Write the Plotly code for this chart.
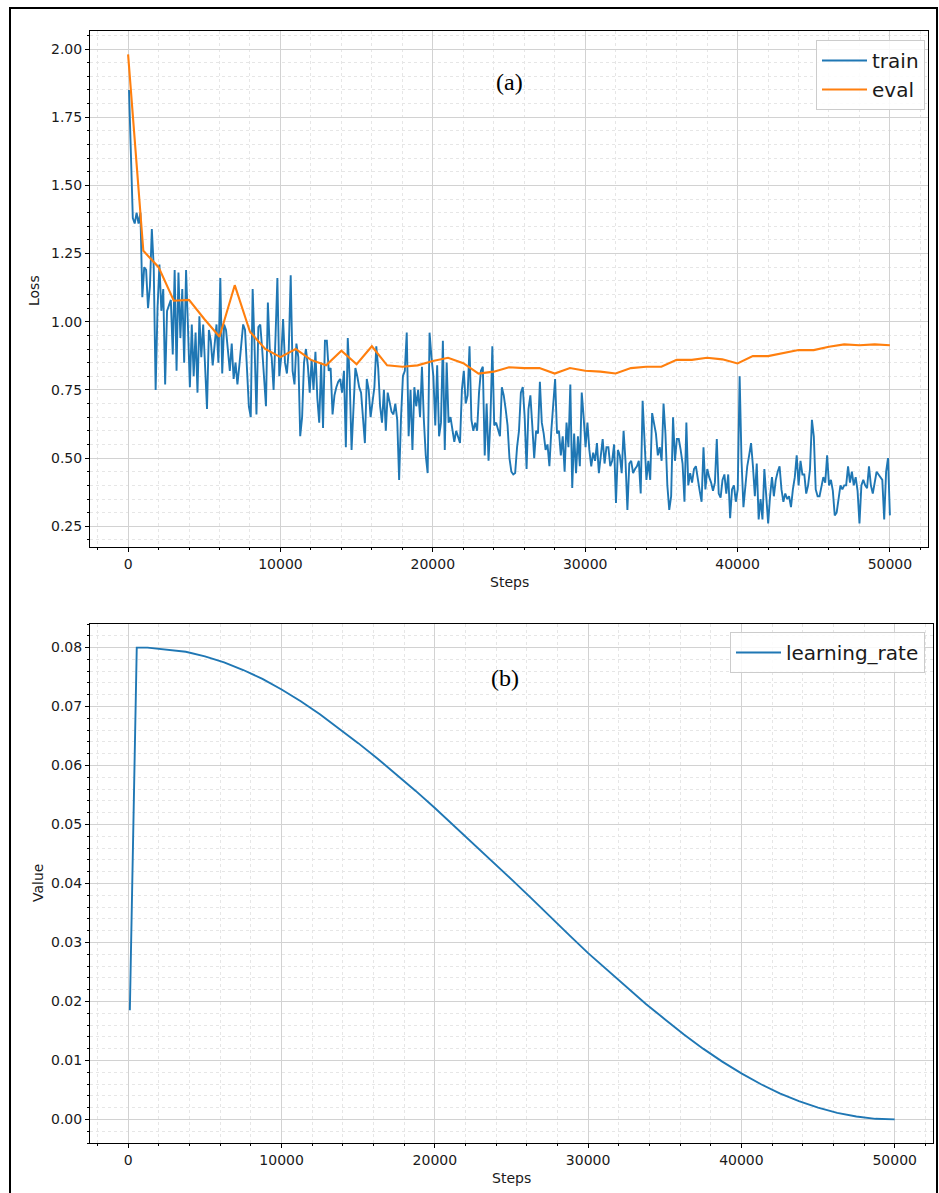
import numpy as np
import plotly.graph_objects as go

# ---------------- data ----------------
train_loss = [
    1.85, 1.60, 1.38, 1.36, 1.40, 1.36, 1.40, 1.09,
    1.20, 1.19, 1.05, 1.13, 1.34, 1.20, 0.75, 1.05,
    1.21, 1.04, 1.12, 0.77, 1.04, 1.06, 1.08, 0.88,
    1.19, 0.82, 1.18, 0.94, 1.12, 0.85, 1.19, 0.98,
    0.76, 0.99, 0.80, 0.96, 0.74, 1.02, 0.87, 0.99,
    0.82, 0.68, 0.97, 0.93, 0.84, 0.92, 0.99, 0.85,
    1.16, 0.81, 0.99, 0.97, 0.90, 0.82, 0.92, 0.79,
    0.85, 0.77, 0.84, 0.92, 0.99, 0.97, 0.82, 0.69,
    0.65, 1.12, 0.91, 0.66, 0.98, 0.99, 0.90, 0.79,
    0.69, 1.07, 0.90, 0.87, 0.75, 0.94, 1.16, 0.80,
    0.87, 1.01, 0.85, 0.81, 0.90, 1.17, 0.82, 0.77,
    0.92, 0.87, 0.58, 0.65, 0.85, 0.90, 0.84, 0.74,
    0.86, 0.75, 0.89, 0.72, 0.63, 0.85, 0.61, 0.93,
    0.93, 0.82, 0.83, 0.66, 0.73, 0.76, 0.78, 0.79,
    0.74, 0.82, 0.54, 0.94, 0.79, 0.53, 0.66, 0.83,
    0.80, 0.76, 0.74, 0.65, 0.555, 0.79, 0.75, 0.65,
    0.71, 0.76, 0.91, 0.83, 0.69, 0.63, 0.75, 0.60,
    0.74, 0.70, 0.67, 0.66, 0.70, 0.64, 0.42, 0.65,
    0.80, 0.82, 0.96, 0.58, 0.75, 0.53, 0.76, 0.69,
    0.75, 0.65, 0.835, 0.64, 0.51, 0.445, 0.96, 0.87,
    0.80, 0.62, 0.84, 0.58, 0.63, 0.93, 0.53, 0.85,
    0.63, 0.65, 0.60, 0.56, 0.60, 0.58, 0.555, 0.75,
    0.82, 0.70, 0.73, 0.91, 0.64, 0.60, 0.63, 0.60,
    0.74, 0.82, 0.835, 0.51, 0.70, 0.49, 0.64, 0.91,
    0.62, 0.63, 0.60, 0.58, 0.76, 0.73, 0.68, 0.62,
    0.50, 0.45, 0.44, 0.445, 0.54, 0.60, 0.74, 0.76,
    0.65, 0.46, 0.68, 0.73, 0.62, 0.50, 0.60, 0.59,
    0.78, 0.63, 0.59, 0.53, 0.55, 0.47, 0.60, 0.70,
    0.79, 0.59, 0.60, 0.51, 0.58, 0.45, 0.63, 0.54,
    0.77, 0.39, 0.59, 0.445, 0.58, 0.47, 0.74, 0.65,
    0.54, 0.63, 0.53, 0.47, 0.52, 0.49, 0.555, 0.445,
    0.51, 0.57, 0.48, 0.54, 0.54, 0.47, 0.49, 0.55,
    0.335, 0.53, 0.51, 0.445, 0.60, 0.49, 0.31, 0.48,
    0.49, 0.445, 0.46, 0.47, 0.49, 0.37, 0.71, 0.57,
    0.42, 0.49, 0.42, 0.665, 0.62, 0.59, 0.51, 0.54,
    0.49, 0.70, 0.59, 0.40, 0.31, 0.36, 0.65, 0.49,
    0.57, 0.57, 0.53, 0.48, 0.34, 0.63, 0.40, 0.445,
    0.41, 0.46, 0.47, 0.42, 0.38, 0.34, 0.54, 0.385,
    0.46, 0.43, 0.41, 0.38, 0.41, 0.57, 0.37, 0.355,
    0.42, 0.44, 0.37, 0.44, 0.28, 0.385, 0.40, 0.34,
    0.385, 0.80, 0.49, 0.32, 0.40, 0.47, 0.51, 0.555,
    0.47, 0.36, 0.48, 0.275, 0.35, 0.275, 0.46, 0.36,
    0.26, 0.36, 0.43, 0.36, 0.42, 0.45, 0.47, 0.385,
    0.34, 0.37, 0.35, 0.36, 0.32, 0.385, 0.43, 0.51,
    0.40, 0.49, 0.44, 0.44, 0.37, 0.40, 0.46, 0.64,
    0.58, 0.385, 0.36, 0.36, 0.40, 0.43, 0.41, 0.51,
    0.40, 0.42, 0.38, 0.29, 0.30, 0.35, 0.40, 0.385,
    0.40, 0.40, 0.47, 0.41, 0.45, 0.40, 0.43, 0.38,
    0.26, 0.40, 0.42, 0.40, 0.39, 0.47, 0.40, 0.37,
    0.41, 0.45, 0.44, 0.43, 0.42, 0.275, 0.45, 0.50,
    0.29,
]
train_steps = np.linspace(60, 50000, len(train_loss))

eval_steps = list(range(0, 50001, 1000))
eval_loss = [
    1.98, 1.26, 1.20, 1.077, 1.08, 1.01, 0.945, 1.134, 0.963, 0.90,
    0.87, 0.90, 0.86, 0.84, 0.894, 0.844, 0.91, 0.84, 0.835, 0.84,
    0.856, 0.868, 0.848, 0.81, 0.817, 0.833, 0.83, 0.83, 0.81, 0.83,
    0.82, 0.817, 0.81, 0.83, 0.835, 0.835, 0.86, 0.86, 0.868, 0.862,
    0.847, 0.874, 0.874, 0.886, 0.896, 0.896, 0.908, 0.917, 0.914, 0.917,
    0.914,
]

lr_steps = [100, 550, 1250, 2500, 3750, 5000, 6250, 7500, 8750, 10000,
            11250, 12500, 13750, 15000, 16250, 17500, 18750, 20000, 21250,
            22500, 23750, 25000, 26250, 27500, 28750, 30000, 31250, 32500,
            33750, 35000, 36250, 37500, 38750, 40000, 41250, 42500, 43750,
            45000, 46250, 47500, 48750, 50000]
lr_values = [0.0185, 0.0800, 0.0800, 0.0797, 0.0793, 0.0785, 0.0775, 0.0762,
             0.0747, 0.0729, 0.0709, 0.0687, 0.0663, 0.0638, 0.0612, 0.0585,
             0.0557, 0.0528, 0.0498, 0.0468, 0.0438, 0.0407, 0.0376, 0.0344,
             0.0313, 0.0282, 0.0253, 0.0224, 0.0196, 0.0170, 0.0144, 0.0120,
             0.0098, 0.0078, 0.0060, 0.0044, 0.0031, 0.0020, 0.0011, 0.0005,
             0.0001, 0.0000]

# ---------------- figure ----------------
W, H = 939, 1193
def fx(p):
    return p / W
def fy(p):
    return 1 - p / H

BLUE = "#1f77b4"
ORANGE = "#ff7f0e"
FONT = "DejaVu Sans"

fig = go.Figure()
fig.add_trace(go.Scatter(x=train_steps, y=train_loss, mode="lines", name="train",
                         line=dict(color=BLUE, width=1.9), xaxis="x", yaxis="y",
                         legend="legend"))
fig.add_trace(go.Scatter(x=eval_steps, y=eval_loss, mode="lines", name="eval",
                         line=dict(color=ORANGE, width=2.1), xaxis="x", yaxis="y",
                         legend="legend"))
fig.add_trace(go.Scatter(x=lr_steps, y=lr_values, mode="lines", name="learning_rate",
                         line=dict(color=BLUE, width=1.9), xaxis="x2", yaxis="y2",
                         legend="legend2"))

def axis(**kw):
    d = dict(showline=True, linecolor="black", linewidth=1, mirror=True,
             ticks="outside", ticklen=4, tickwidth=1, tickcolor="black",
             showgrid=True, gridcolor="#d2d2d2", gridwidth=1, zeroline=False,
             tickfont=dict(family=FONT, size=14, color="#1a1a1a"),
             automargin=False)
    d.update(kw)
    return d

def minor(dt):
    return dict(dtick=dt, ticks="outside", ticklen=2, tickcolor="black",
                showgrid=True, gridcolor="#e6e6e6", griddash="dot", gridwidth=1)

top_x = (90, 928)
bot_x = (90, 933)
fig.update_layout(
    width=W, height=H,
    margin=dict(l=0, r=0, t=0, b=0),
    paper_bgcolor="white", plot_bgcolor="white",
    showlegend=True,
    xaxis=axis(domain=[fx(top_x[0]), fx(top_x[1])], range=[-2500, 52500],
               tick0=0, dtick=10000, tickformat="d", anchor="y", minor=minor(2000)),
    yaxis=axis(domain=[fy(547), fy(31)], range=[0.174, 2.066], tick0=0.25,
               dtick=0.25, tickformat=".2f", anchor="x", minor=minor(0.05)),
    xaxis2=axis(domain=[fx(bot_x[0]), fx(bot_x[1])], range=[-2500, 52500],
                tick0=0, dtick=10000, tickformat="d", anchor="y2", minor=minor(2000)),
    yaxis2=axis(domain=[fy(1143), fy(624)], range=[-0.004, 0.084], tick0=0,
                dtick=0.01, tickformat=".2f", anchor="x2", minor=minor(0.002)),
    legend=dict(x=fx(925), y=fy(40), xanchor="right", yanchor="top",
                bgcolor="rgba(255,255,255,0.85)", bordercolor="#cccccc",
                borderwidth=1, itemwidth=45,
                font=dict(family=FONT, size=20, color="#1a1a1a")),
    legend2=dict(x=fx(925), y=fy(632), xanchor="right", yanchor="top",
                 bgcolor="rgba(255,255,255,0.85)", bordercolor="#cccccc",
                 borderwidth=1, itemwidth=45,
                 font=dict(family=FONT, size=20, color="#1a1a1a")),
)

annos = [
    dict(text="(a)", x=fx(510), y=fy(82)),
    dict(text="(b)", x=fx(505), y=fy(678)),
]
for a in annos:
    fig.add_annotation(text=a["text"], x=a["x"], y=a["y"], xref="paper", yref="paper",
                       showarrow=False, xanchor="center", yanchor="middle",
                       font=dict(family="Liberation Serif", size=24, color="black"))

titles = [
    dict(text="Loss", x=fx(34), y=fy(291), angle=-90),
    dict(text="Value", x=fx(38), y=fy(883), angle=-90),
    dict(text="Steps", x=fx(509), y=fy(582), angle=0),
    dict(text="Steps", x=fx(511), y=fy(1178), angle=0),
]
for t in titles:
    fig.add_annotation(text=t["text"], x=t["x"], y=t["y"], xref="paper", yref="paper",
                       showarrow=False, xanchor="center", yanchor="middle",
                       textangle=t["angle"],
                       font=dict(family=FONT, size=14, color="#1a1a1a"))

# outer frame
fig.add_shape(type="rect", xref="paper", yref="paper",
              x0=fx(10), x1=fx(937), y0=-0.02, y1=fy(8),
              line=dict(color="black", width=2), fillcolor="rgba(0,0,0,0)")

fig.write_html(
    "out.html",
    config={"displayModeBar": False},
    post_script="document.body.style.margin='0px';document.body.style.overflow='hidden';",
)
